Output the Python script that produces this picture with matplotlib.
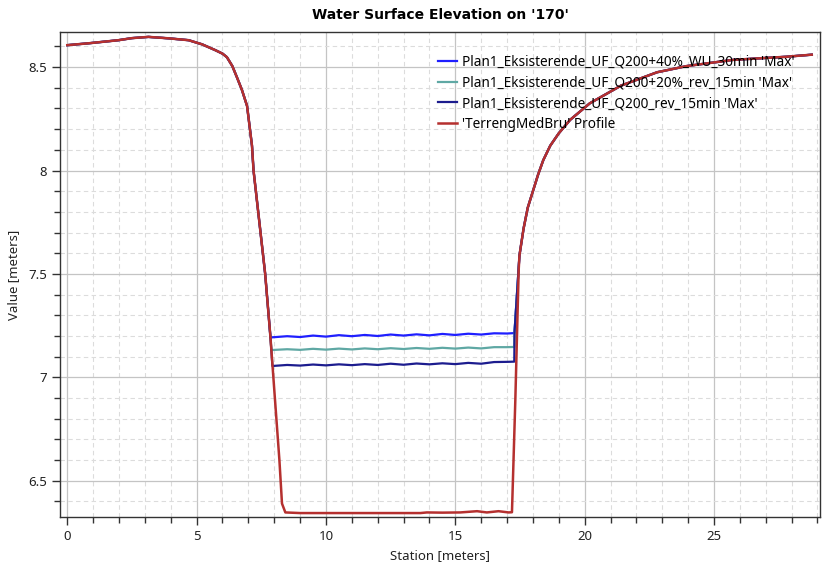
import numpy as np
import matplotlib.pyplot as plt
from matplotlib.ticker import MultipleLocator

plt.rcParams['font.family'] = ['Noto Sans', 'DejaVu Sans']

# Terrain profile ('TerrengMedBru' Profile)
terrain_x = [0.0, 0.82, 1.98, 2.5, 3.14, 3.92, 4.69, 5.21, 5.72, 6.0, 6.17, 6.38, 6.56, 6.75, 6.95,
             7.14, 7.2, 7.43, 7.65, 7.85, 8.2, 8.3, 8.43, 9.0, 10.0, 11.0, 12.0, 13.0,
             13.65, 13.9, 14.5, 15.19, 15.84, 16.22, 16.67, 17.06, 17.19, 17.32, 17.45,
             17.48, 17.64, 17.8, 18.0, 18.2, 18.4, 18.67, 19.0, 19.44, 20.2, 21.4, 22.8, 23.95,
             25.75, 27.8, 28.78]
terrain_y = [8.606, 8.615, 8.63, 8.64, 8.646, 8.639, 8.63, 8.61, 8.582, 8.565, 8.548, 8.505, 8.45, 8.39, 8.312,
             8.12, 8.0, 7.745, 7.5, 7.2, 6.6, 6.39, 6.347, 6.344, 6.344, 6.344, 6.344, 6.344,
             6.344, 6.347, 6.346, 6.347, 6.353, 6.347, 6.353, 6.347, 6.348, 6.89, 7.52,
             7.59, 7.72, 7.82, 7.9, 7.98, 8.05, 8.12, 8.18, 8.245, 8.325, 8.41, 8.475, 8.505,
             8.535, 8.55, 8.56]

# water surface in the channel (between the banks)
pool_x = [8.5, 9.0, 9.5, 10.0, 10.5, 11.0, 11.5, 12.0, 12.5, 13.0, 13.5, 14.0,
          14.5, 15.0, 15.5, 16.0, 16.5, 17.0, 17.28]
wse_q200_40 = [7.199, 7.195, 7.202, 7.197, 7.204, 7.199, 7.205, 7.200, 7.207, 7.202, 7.208, 7.203,
               7.210, 7.205, 7.211, 7.207, 7.213, 7.212, 7.214]
wse_q200_20 = [7.136, 7.133, 7.138, 7.134, 7.139, 7.135, 7.140, 7.136, 7.141, 7.137, 7.142, 7.138,
               7.143, 7.139, 7.144, 7.140, 7.146, 7.146, 7.147]
wse_q200 = [7.060, 7.057, 7.062, 7.058, 7.063, 7.059, 7.064, 7.060, 7.066, 7.061, 7.067, 7.063,
            7.068, 7.064, 7.070, 7.066, 7.074, 7.075, 7.076]
# where each water line leaves the left bank (station, elevation)
start_40 = (7.86, 7.193)
start_20 = (7.89, 7.132)
start_0 = (7.93, 7.055)
# join to right bank
join_x = [17.29, 17.48]
join_y = [7.22, 7.59]

labels = ["Plan1_Eksisterende_UF_Q200+40%_WU_30min 'Max'",
          "Plan1_Eksisterende_UF_Q200+20%_rev_15min 'Max'",
          "Plan1_Eksisterende_UF_Q200_rev_15min 'Max'",
          "'TerrengMedBru' Profile"]
colors = ['#1f1fff', '#5fa8a4', '#1c1c8e', '#b5302f']

tx = np.array(terrain_x)
ty = np.array(terrain_y)
left = tx <= 7.85
right = tx > 17.5


def wse_line(start, pool):
    x = np.concatenate([tx[left], [start[0]], pool_x, join_x, tx[right]])
    y = np.concatenate([ty[left], [start[1]], pool, join_y, ty[right]])
    return x, y


fig = plt.figure(figsize=(8.27, 5.70), dpi=100)
ax = fig.add_axes([0.0726, 0.093, 0.919, 0.851])

for start, pool, c, lab in zip([start_40, start_20, start_0],
                               [wse_q200_40, wse_q200_20, wse_q200],
                               colors[:3], labels[:3]):
    x, y = wse_line(start, pool)
    ax.plot(x, y, color=c, lw=1.6, label=lab)
ax.plot(tx, ty, color=colors[3], lw=1.8, label=labels[3])

ax.set_xlim(-0.28, 29.1)
ax.set_ylim(6.325, 8.67)
ax.xaxis.set_major_locator(MultipleLocator(5))
ax.xaxis.set_minor_locator(MultipleLocator(1))
ax.yaxis.set_major_locator(MultipleLocator(0.5))
ax.yaxis.set_minor_locator(MultipleLocator(0.1))
ax.yaxis.set_major_formatter(plt.FuncFormatter(lambda v, p: f'{v:g}'))

ax.grid(which='major', color='#c4c4c4', lw=0.9, ls='-')
ax.grid(which='minor', color='#dcdcdc', lw=0.8, ls=(0, (4, 3)))
ax.set_axisbelow(True)

ax.tick_params(which='major', direction='out', length=6, width=1, colors='#333333',
               labelsize=9.5, labelcolor='#222222')
ax.tick_params(which='minor', direction='out', length=4, width=1, colors='#333333')
for s in ax.spines.values():
    s.set_color('#333333')
    s.set_linewidth(1.0)

ax.set_title("Water Surface Elevation on '170'", fontsize=10, fontweight='bold', pad=9,
             family=['DejaVu Sans'])
ax.set_xlabel('Station [meters]', fontsize=9.5, color='#222222', labelpad=4)
ax.set_ylabel('Value [meters]', fontsize=9.5, color='#222222', labelpad=6)

ax.legend(loc='upper left', bbox_to_anchor=(0.497, 0.953), frameon=False, fontsize=9.8,
          handlelength=1.4, handletextpad=0.4, labelspacing=0.42, borderpad=0,
          borderaxespad=0)

fig.savefig('out.png', dpi=100)
